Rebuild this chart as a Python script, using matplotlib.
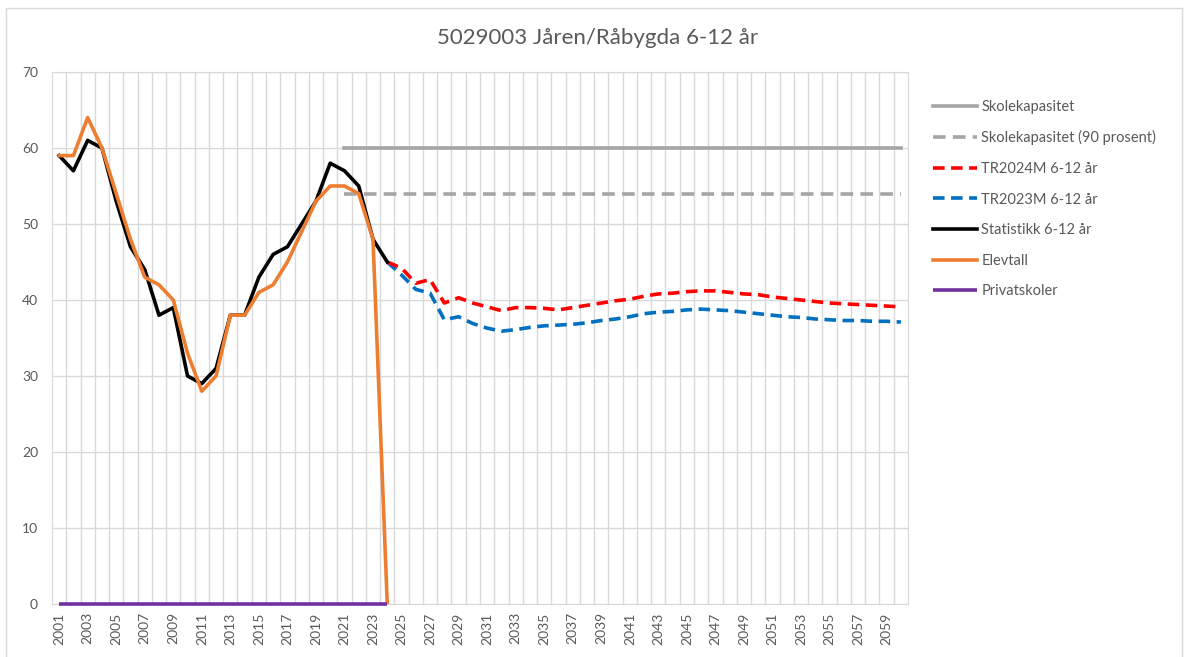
import numpy as np
from matplotlib import pyplot as plt
from matplotlib.patches import Rectangle

plt.rcParams["font.family"] = ["Lato", "DejaVu Sans"]

# Kategorier (år)
years = list(range(2001, 2061))

# Statistikk og elevtall 2001-2024
statistikk = [59, 57, 61, 60, 53, 47, 44, 38, 39, 30, 29, 31, 38, 38, 43, 46,
              47, 50, 53, 58, 57, 55, 48, 45]
elevtall = [59, 59, 64, 60, 54, 48, 43, 42, 40, 33, 28, 30, 38, 38, 41, 42,
            45, 49, 53, 55, 55, 54, 48, 0]
privatskoler = [0] * 24

# Prognoser 2024-2060
tr2024m = [45, 44.2, 42.2, 42.7, 39.6, 40.3, 39.6, 39.1, 38.6, 39.0, 39.0, 38.9,
           38.7, 39.0, 39.3, 39.6, 39.9, 40.1, 40.5, 40.8, 40.9, 41.1, 41.2, 41.2,
           41.0, 40.8, 40.7, 40.4, 40.2, 40.0, 39.8, 39.6, 39.5, 39.4, 39.3, 39.2,
           39.1]
tr2023m = [45, 43.3, 41.4, 40.9, 37.4, 37.8, 36.9, 36.3, 35.9, 36.1, 36.4, 36.6,
           36.7, 36.8, 37.0, 37.3, 37.5, 37.8, 38.2, 38.4, 38.5, 38.7, 38.8, 38.7,
           38.6, 38.4, 38.2, 38.0, 37.8, 37.7, 37.5, 37.4, 37.3, 37.3, 37.2, 37.2,
           37.1]

# Skolekapasitet 2021-2060
kapasitet = [60] * 40
kapasitet_90 = [54] * 40

idx = {y: i for i, y in enumerate(years)}
x_hist = np.arange(idx[2001], idx[2024] + 1)
x_prog = np.arange(idx[2024], idx[2060] + 1)
x_kap = np.arange(idx[2021], idx[2060] + 1)

fig = plt.figure(figsize=(11.88, 6.57), dpi=100)
ax = fig.add_axes([52 / 1188, 53 / 657, 856 / 1188, 532 / 657])

grid_c = "#d9d9d9"
text_c = "#595959"
lw = 2.6

ax.plot(x_kap, kapasitet, color="#a5a5a5", lw=lw, label="Skolekapasitet", zorder=3)
ax.plot(x_kap, kapasitet_90, color="#a5a5a5", lw=lw, dashes=(3.5, 2),
        label="Skolekapasitet (90 prosent)", zorder=3)
ax.plot(x_prog, tr2023m, color="#0070c0", lw=lw, dashes=(3.2, 1.8), label="TR2023M 6-12 år", zorder=4)
ax.plot(x_prog, tr2024m, color="#ff0000", lw=lw, dashes=(3.2, 1.8), label="TR2024M 6-12 år", zorder=5)
ax.plot(x_hist, statistikk, color="black", lw=lw, label="Statistikk 6-12 år", zorder=6)
ax.plot(x_hist, elevtall, color="#ed7d31", lw=lw, label="Elevtall", zorder=7)
ax.plot(x_hist, privatskoler, color="#7030a0", lw=lw, label="Privatskoler",
        zorder=8, clip_on=False, solid_capstyle="butt")

ax.set_xlim(-0.5, len(years) - 0.5)
ax.set_ylim(0, 70)
ax.set_yticks(range(0, 71, 10))
ax.set_xticks(range(0, len(years), 2))
ax.set_xticklabels([str(y) for y in years[::2]], rotation=90)
ax.set_xticks(np.arange(0.5, len(years) - 0.5, 1), minor=True)
ax.tick_params(axis="both", which="both", length=0, colors=text_c, labelsize=10)
ax.tick_params(axis="x", pad=6)
ax.tick_params(axis="y", pad=10)
ax.grid(True, axis="y", color=grid_c, lw=1)
ax.grid(True, axis="x", which="minor", color=grid_c, lw=1)
ax.set_axisbelow(True)
for side in ["top", "right", "left", "bottom"]:
    ax.spines[side].set_color(grid_c)

fig.text(598 / 1188, 1 - 38 / 657, "5029003 Jåren/Råbygda 6-12 år",
         ha="center", va="center", fontsize=16, color=text_c)

# Legend i Excel-rekkefølge
handles, labels = ax.get_legend_handles_labels()
order = ["Skolekapasitet", "Skolekapasitet (90 prosent)", "TR2024M 6-12 år",
         "TR2023M 6-12 år", "Statistikk 6-12 år", "Elevtall", "Privatskoler"]
hmap = dict(zip(labels, handles))
leg = fig.legend([hmap[l] for l in order], order, loc="upper left",
                 bbox_to_anchor=(920 / 1188, 1 - 86.5 / 657), frameon=False,
                 fontsize=10.5, labelspacing=1.14, handlelength=3.0, handletextpad=0.3)
for t in leg.get_texts():
    t.set_color(text_c)

fig.patches.append(Rectangle((6 / 1188, -0.01), 1176 / 1188, 1 - 8 / 657 + 0.01,
                             transform=fig.transFigure, fill=False,
                             edgecolor="#d9d9d9", lw=1))

plt.savefig("out.png", dpi=100)
